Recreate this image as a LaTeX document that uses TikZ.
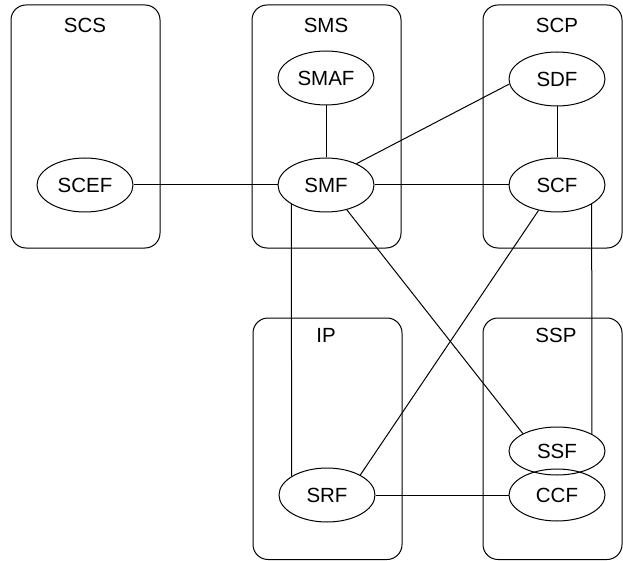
\documentclass[tikz,border=0pt]{standalone}
\usepackage{fontspec}
\setmainfont{Liberation Sans}
\usetikzlibrary{shapes.geometric}

\begin{document}
\begin{tikzpicture}[x=1pt,y=-1pt,
    box/.style={draw,line width=1pt,rounded corners=15pt},
    fn/.style={draw,line width=1pt,ellipse,inner sep=0pt,minimum width=96pt,minimum height=54pt,
      font=\fontsize{20.5}{24}\selectfont},
    title/.style={font=\fontsize{20.5}{24}\selectfont},
    link/.style={line width=1pt}]
    \useasboundingbox (0,0) rectangle (623,561);

    % parameters
    \def\top{5}
    \def\mid{248}
    \def\low{318}
    \def\bot{559.5}

    % Boxes of the entities
    \draw[box] (11,\top) rectangle (160,\mid);
    \draw[box] (252,\top) rectangle (401,\mid);
    \draw[box] (483,\top) rectangle (622,\mid);
    \draw[box] (253,\low) rectangle (402,\bot);
    \draw[box] (483,\low) rectangle (622,\bot);

    \node[title] (scs) at (85,25) {SCS};
    \node[title] (sms) at (326,25) {SMS};
    \node[title] (scp) at (557,25) {SCP};
    \node[title] (ip) at (326,335) {IP};
    \node[title] (ssp) at (556,335) {SSP};

    % Functions
    \node[fn] (SCEF) at (85,185) {SCEF};
    \node[fn] (SMAF) at (326,78) {SMAF};
    \node[fn] (SMF) at (326,185) {SMF};
    \node[fn] (SDF) at (557,79) {SDF};
    \node[fn] (SCF) at (557,185) {SCF};
    \node[fn,minimum height=48pt] (SSF) at (557,451) {SSF};
    \node[fn,minimum height=52pt] (CCF) at (557,495) {CCF};
    \node[fn] (SRF) at (327,495) {SRF};

    % Links between functions
    \draw[link] (SCEF.east) -- (SMF.west);
    \draw[link] (SMAF.south) -- (SMF.north);
    \draw[link] (SMF.east) -- (SCF.west);
    \draw[link] (SDF.south) -- (SCF.north);
    \draw[link] (SMF.35) -- (SDF.186);
    \draw[link] (SMF.-50) -- (SSF.153);
    \draw[link] (SMF.209) -- (SRF.152);
    \draw[link] (SCF.234) -- (SRF.31);
    \draw[link] (SCF.-29) -- (SSF.26);
    \draw[link] (SRF.east) -- (CCF.west);
\end{tikzpicture}
\end{document}
